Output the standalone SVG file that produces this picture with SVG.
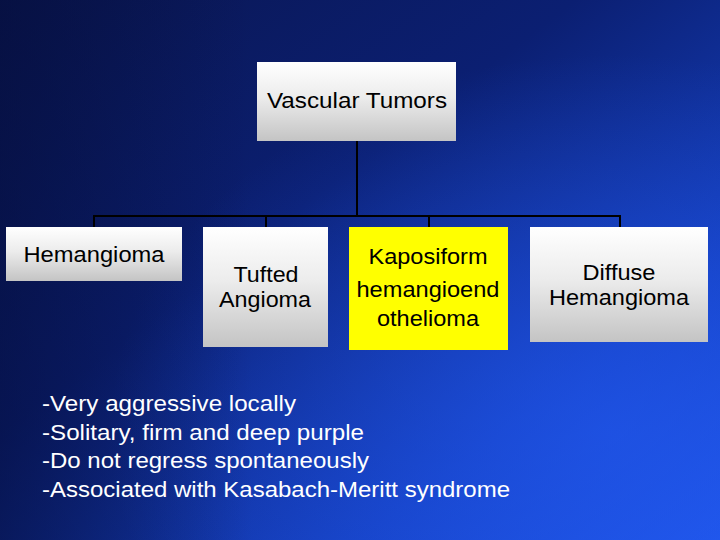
<svg xmlns="http://www.w3.org/2000/svg" width="720" height="540" viewBox="0 0 720 540">
<defs>
<linearGradient id="bg" x1="0" y1="0" x2="1" y2="1">
<stop offset="0" stop-color="#0a1650"/>
<stop offset="0.4" stop-color="#0b1f72"/>
<stop offset="0.75" stop-color="#1540c0"/>
<stop offset="1" stop-color="#1f56ea"/>
</linearGradient>
<radialGradient id="glow" cx="0.85" cy="0.8" r="0.7">
<stop offset="0" stop-color="#2258f0" stop-opacity="0.6"/>
<stop offset="1" stop-color="#2258f0" stop-opacity="0"/>
</radialGradient>
<linearGradient id="shade" x1="0" y1="0" x2="1" y2="0">
<stop offset="0" stop-color="#040c38" stop-opacity="0.55"/>
<stop offset="0.35" stop-color="#040c38" stop-opacity="0"/>
</linearGradient>
<linearGradient id="gray" x1="0" y1="0" x2="0" y2="1">
<stop offset="0" stop-color="#ffffff"/>
<stop offset="0.45" stop-color="#ececec"/>
<stop offset="1" stop-color="#c4c4c4"/>
</linearGradient>
<style>
.box{fill:url(#gray);}
.yel{fill:#ffff00;}
.t{font-family:"Liberation Sans",Arial,sans-serif;font-size:22px;fill:#000;text-anchor:middle;}
.b{font-family:"Liberation Sans",Arial,sans-serif;font-size:22px;fill:#fff;}
.c{stroke:#000;stroke-width:2;fill:none;}
</style>
</defs>
<rect width="720" height="540" fill="url(#bg)"/>
<rect width="720" height="540" fill="url(#glow)"/>
<rect width="720" height="540" fill="url(#shade)"/>
<g id="connectors">
<path class="c" d="M357 141V216M94 227V216H620V227M266 216V227M429 216V227"/>
</g>
<g id="root">
<rect class="box" x="257" y="62" width="199" height="79"/>
<text class="t" x="357" y="108" textLength="180" lengthAdjust="spacingAndGlyphs">Vascular Tumors</text>
</g>
<g id="hemangioma">
<rect class="box" x="6" y="227" width="176" height="54"/>
<text class="t" x="94" y="262" textLength="141" lengthAdjust="spacingAndGlyphs">Hemangioma</text>
</g>
<g id="tufted">
<rect class="box" x="203" y="227" width="125" height="120"/>
<text class="t" x="266" y="282" textLength="65" lengthAdjust="spacingAndGlyphs">Tufted</text>
<text class="t" x="265" y="307" textLength="92" lengthAdjust="spacingAndGlyphs">Angioma</text>
</g>
<g id="kaposiform">
<rect class="yel" x="349" y="227" width="159" height="123"/>
<text class="t" x="428" y="264" textLength="119" lengthAdjust="spacingAndGlyphs">Kaposiform</text>
<text class="t" x="428" y="297" textLength="143" lengthAdjust="spacingAndGlyphs">hemangioend</text>
<text class="t" x="428" y="326" textLength="102" lengthAdjust="spacingAndGlyphs">othelioma</text>
</g>
<g id="diffuse">
<rect class="box" x="530" y="227" width="178" height="115"/>
<text class="t" x="619" y="280" textLength="73" lengthAdjust="spacingAndGlyphs">Diffuse</text>
<text class="t" x="619" y="305" textLength="140" lengthAdjust="spacingAndGlyphs">Hemangioma</text>
</g>
<g id="notes">
<text class="b" x="42" y="411" textLength="254" lengthAdjust="spacingAndGlyphs">-Very aggressive locally</text>
<text class="b" x="42" y="440" textLength="322" lengthAdjust="spacingAndGlyphs">-Solitary, firm and deep purple</text>
<text class="b" x="42" y="468" textLength="327" lengthAdjust="spacingAndGlyphs">-Do not regress spontaneously</text>
<text class="b" x="42" y="497" textLength="468" lengthAdjust="spacingAndGlyphs">-Associated with Kasabach-Meritt syndrome</text>
</g>
</svg>
